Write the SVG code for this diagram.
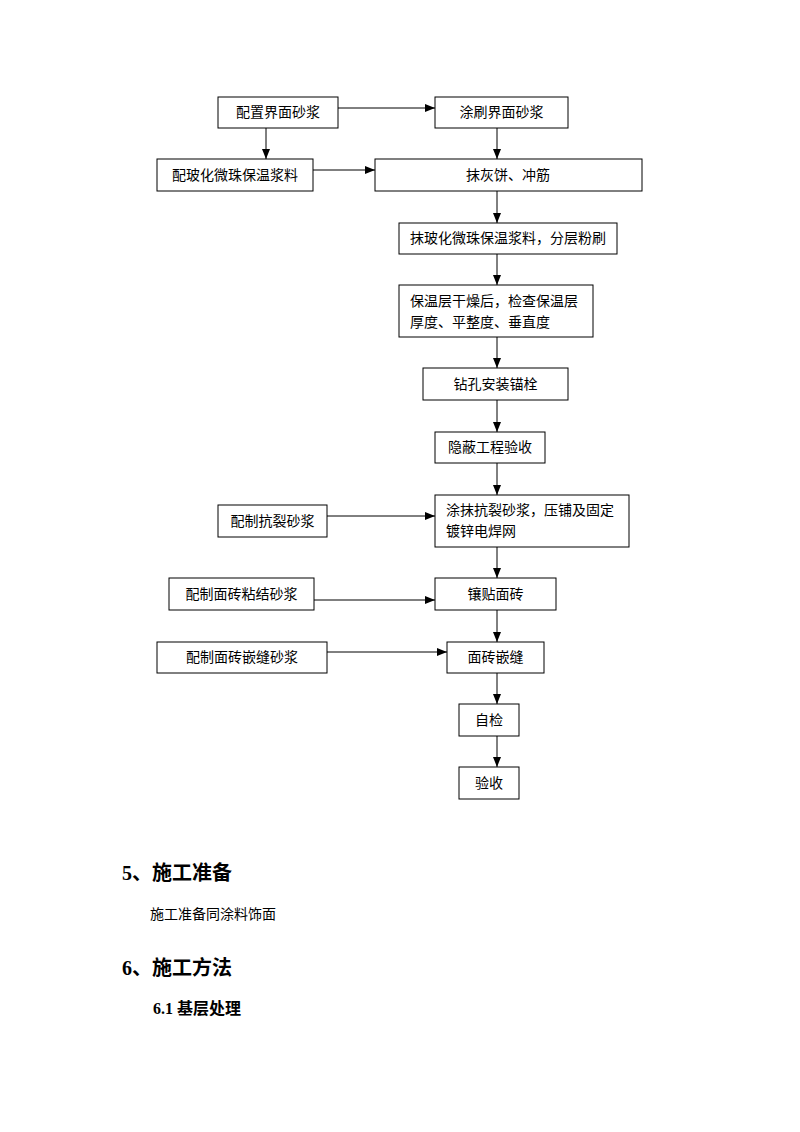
<svg xmlns="http://www.w3.org/2000/svg" width="800" height="1132" viewBox="0 0 800 1132">
<style>
.box{fill:#fff;stroke:#000;stroke-width:1}
.t{font-family:"Liberation Serif","Noto Sans CJK SC",serif;font-size:14px;fill:#000}
.c{text-anchor:middle;dominant-baseline:central}
.ln{stroke:#000;stroke-width:1;fill:none;marker-end:url(#ah)}
.h{font-family:"Liberation Serif","Noto Sans CJK SC",serif;font-weight:bold;fill:#000}
</style>
<defs>
<marker id="ah" viewBox="0 0 10 10" refX="10" refY="5" markerWidth="10" markerHeight="10" markerUnits="userSpaceOnUse" orient="auto">
<path d="M0,1 L10,5 L0,9 Z" fill="#000"/>
</marker>
</defs>
<rect width="800" height="1132" fill="#fff"/>
<g id="connectors">
<line class="ln" x1="338" y1="108" x2="435" y2="108"/>
<line class="ln" x1="266" y1="128" x2="266" y2="159"/>
<line class="ln" x1="497" y1="128" x2="497" y2="159"/>
<line class="ln" x1="313" y1="170" x2="375" y2="170"/>
<line class="ln" x1="497" y1="191" x2="497" y2="223"/>
<line class="ln" x1="497" y1="254" x2="497" y2="285"/>
<line class="ln" x1="497" y1="337" x2="497" y2="368"/>
<line class="ln" x1="497" y1="400" x2="497" y2="432"/>
<line class="ln" x1="497" y1="463" x2="497" y2="495"/>
<line class="ln" x1="327" y1="516" x2="435" y2="516"/>
<line class="ln" x1="497" y1="547" x2="497" y2="578"/>
<line class="ln" x1="314" y1="600" x2="435" y2="600"/>
<line class="ln" x1="497" y1="610" x2="497" y2="642"/>
<line class="ln" x1="327" y1="652" x2="447" y2="652"/>
<line class="ln" x1="497" y1="673" x2="497" y2="704"/>
<line class="ln" x1="497" y1="736" x2="497" y2="767"/>
</g>
<g id="n1"><rect class="box" x="218" y="97" width="120" height="31"/><text class="t c" x="278" y="112.5">配置界面砂浆</text></g>
<g id="n2"><rect class="box" x="435" y="97" width="133" height="31"/><text class="t c" x="501.5" y="112.5">涂刷界面砂浆</text></g>
<g id="n3"><rect class="box" x="157" y="159" width="156" height="32"/><text class="t c" x="235" y="175">配玻化微珠保温浆料</text></g>
<g id="n4"><rect class="box" x="375" y="159" width="267" height="32"/><text class="t c" x="508" y="175">抹灰饼、冲筋</text></g>
<g id="n5"><rect class="box" x="399" y="223" width="218" height="31"/><text class="t c" x="508" y="238.5">抹玻化微珠保温浆料，分层粉刷</text></g>
<g id="n6"><rect class="box" x="399" y="285" width="194" height="52"/><text class="t" x="410" y="306">保温层干燥后，检查保温层</text><text class="t" x="410" y="327">厚度、平整度、垂直度</text></g>
<g id="n7"><rect class="box" x="423" y="368" width="145" height="32"/><text class="t c" x="495.5" y="384">钻孔安装锚栓</text></g>
<g id="n8"><rect class="box" x="435" y="432" width="110" height="31"/><text class="t c" x="490" y="447.5">隐蔽工程验收</text></g>
<g id="n9"><rect class="box" x="218" y="505" width="109" height="32"/><text class="t c" x="272.5" y="521">配制抗裂砂浆</text></g>
<g id="n10"><rect class="box" x="435" y="495" width="194" height="52"/><text class="t" x="446" y="515">涂抹抗裂砂浆，压铺及固定</text><text class="t" x="446" y="536">镀锌电焊网</text></g>
<g id="n11"><rect class="box" x="169" y="578" width="145" height="32"/><text class="t c" x="241.5" y="594">配制面砖粘结砂浆</text></g>
<g id="n12"><rect class="box" x="435" y="578" width="121" height="32"/><text class="t c" x="495.5" y="594">镶贴面砖</text></g>
<g id="n13"><rect class="box" x="157" y="642" width="170" height="31"/><text class="t c" x="242" y="657.5">配制面砖嵌缝砂浆</text></g>
<g id="n14"><rect class="box" x="447" y="642" width="97" height="31"/><text class="t c" x="495.5" y="657.5">面砖嵌缝</text></g>
<g id="n15"><rect class="box" x="459" y="704" width="60" height="32"/><text class="t c" x="489" y="720">自检</text></g>
<g id="n16"><rect class="box" x="459" y="767" width="60" height="32"/><text class="t c" x="489" y="783">验收</text></g>
<g id="text">
<text class="h" x="122" y="880" font-size="20">5、施工准备</text>
<text class="t" x="150" y="919">施工准备同涂料饰面</text>
<text class="h" x="122" y="975" font-size="20">6、施工方法</text>
<text class="h" x="153" y="1014" font-size="16">6.1 基层处理</text>
</g>
</svg>
